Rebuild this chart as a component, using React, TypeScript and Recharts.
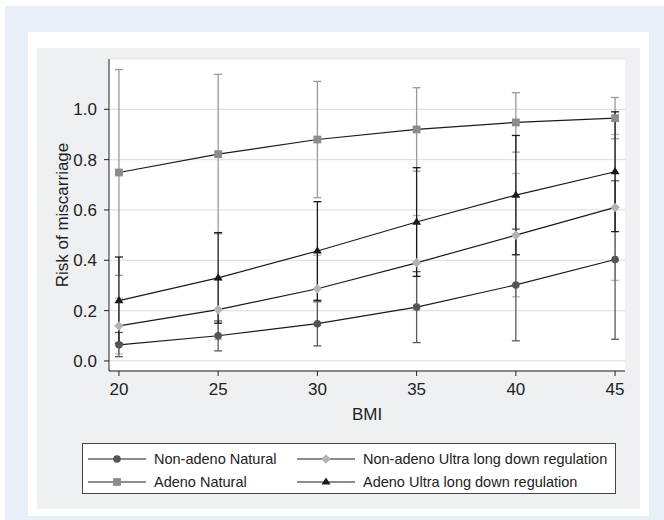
import React from 'react';
import { LineChart, Line, XAxis, YAxis, CartesianGrid, ErrorBar } from 'recharts';

const bmi = [20, 25, 30, 35, 40, 45];

// Non-adeno Natural (dark grey circles)
const nonAdenoNatural = [0.064, 0.1, 0.148, 0.214, 0.302, 0.403];
const nonAdenoNaturalLow = [0.017, 0.04, 0.06, 0.073, 0.08, 0.086];
const nonAdenoNaturalHigh = [0.113, 0.159, 0.235, 0.355, 0.524, 0.716];

// Non-adeno Ultra long down regulation (light grey diamonds)
const nonAdenoUltra = [0.139, 0.204, 0.287, 0.39, 0.5, 0.61];
const nonAdenoUltraLow = [0.028, 0.085, 0.15, 0.202, 0.255, 0.32];
const nonAdenoUltraHigh = [0.25, 0.323, 0.42, 0.578, 0.745, 0.9];

// Adeno Natural (grey squares)
const adenoNatural = [0.749, 0.822, 0.88, 0.92, 0.948, 0.965];
const adenoNaturalLow = [0.34, 0.505, 0.649, 0.754, 0.83, 0.883];
const adenoNaturalHigh = [1.158, 1.139, 1.111, 1.086, 1.066, 1.047];

// Adeno Ultra long down regulation (black triangles)
const adenoUltra = [0.24, 0.33, 0.437, 0.552, 0.659, 0.752];
const adenoUltraLow = [0.07, 0.15, 0.241, 0.336, 0.422, 0.514];
const adenoUltraHigh = [0.413, 0.51, 0.633, 0.768, 0.896, 0.99];

const xTicks = [20, 25, 30, 35, 40, 45];
const yTicks = [0, 0.2, 0.4, 0.6, 0.8, 1.0];

const err = (v: number[], lo: number[], hi: number[], i: number) => [v[i] - lo[i], hi[i] - v[i]];

const data = bmi.map((b, i) => ({
  bmi: b,
  nan: nonAdenoNatural[i],
  nanErr: err(nonAdenoNatural, nonAdenoNaturalLow, nonAdenoNaturalHigh, i),
  nau: nonAdenoUltra[i],
  nauErr: err(nonAdenoUltra, nonAdenoUltraLow, nonAdenoUltraHigh, i),
  an: adenoNatural[i],
  anErr: err(adenoNatural, adenoNaturalLow, adenoNaturalHigh, i),
  au: adenoUltra[i],
  auErr: err(adenoUltra, adenoUltraLow, adenoUltraHigh, i),
}));

const FONT = '"Liberation Sans", Arial, Helvetica, sans-serif';
const LINE = '#1a1a1a';
const AXIS_FS = 17;

const Marker = ({ shape, cx, cy, fill }: any) => {
  if (shape === 'circle') return <circle cx={cx} cy={cy} r={3.8} fill={fill} />;
  if (shape === 'diamond')
    return <path d={`M${cx},${cy - 4.8}L${cx + 4.8},${cy}L${cx},${cy + 4.8}L${cx - 4.8},${cy}Z`} fill={fill} />;
  if (shape === 'square') return <rect x={cx - 3.9} y={cy - 3.9} width={7.8} height={7.8} fill={fill} />;
  return <path d={`M${cx},${cy - 4.6}L${cx + 4.5},${cy + 2.6}L${cx - 4.5},${cy + 2.6}Z`} fill={fill} />;
};

const dotOf = (shape: string, fill: string) => (p: any) =>
  <Marker key={`${shape}-${p.index}`} shape={shape} cx={p.cx} cy={p.cy} fill={fill} />;

const series = [
  { key: 'an', shape: 'square', fill: '#8c8c8c', bar: '#9a9a9a' },
  { key: 'nau', shape: 'diamond', fill: '#b4b4b4', bar: '#b8b8b8' },
  { key: 'nan', shape: 'circle', fill: '#555555', bar: '#5a5a5a' },
  { key: 'au', shape: 'triangle', fill: '#1a1a1a', bar: '#1a1a1a' },
];

const legendItems = [
  { name: 'Non-adeno Natural', shape: 'circle', fill: '#555555', left: 5, top: 14.5 },
  { name: 'Non-adeno Ultra long down regulation', shape: 'diamond', fill: '#b4b4b4', left: 214, top: 14.5 },
  { name: 'Adeno Natural', shape: 'square', fill: '#8c8c8c', left: 5, top: 38 },
  { name: 'Adeno Ultra long down regulation', shape: 'triangle', fill: '#1a1a1a', left: 214, top: 38 },
];

export default function App() {
  return (
    <div style={{ position: 'absolute', left: 0, top: 0, width: 664, height: 520, background: '#fff', overflow: 'hidden', fontFamily: FONT }}>
      <div style={{ position: 'absolute', left: 5, top: 6, width: 659, height: 514, background: '#e8eff8' }} />
      <div style={{ position: 'absolute', left: 28, top: 32, width: 621, height: 484, background: '#fff' }} />
      <div style={{ position: 'absolute', left: 37, top: 48, width: 603, height: 461, background: '#eff0f2' }} />
      <div style={{ position: 'absolute', left: 37, top: 48 }}>
        <LineChart width={603} height={461} data={data} margin={{ top: 11, right: 15, bottom: 83, left: 0 }}>
          <CartesianGrid vertical={false} stroke="#e2e2e2" strokeWidth={1.2} fill="#ffffff" />
          <XAxis
            dataKey="bmi"
            type="number"
            domain={[19.5, 45.5]}
            allowDataOverflow
            ticks={xTicks}
            height={55}
            tickSize={5}
            tickMargin={7}
            stroke="#222"
            tick={{ fill: '#222', fontSize: AXIS_FS, fontFamily: FONT }}
            label={{ value: 'BMI', position: 'insideBottom', offset: 6, fill: '#222', fontSize: AXIS_FS, fontFamily: FONT }}
          />
          <YAxis
            type="number"
            domain={[-0.04, 1.2]}
            allowDataOverflow
            ticks={yTicks}
            width={72}
            tickSize={5}
            tickMargin={7}
            stroke="#222"
            tickFormatter={(v: number) => v.toFixed(1)}
            tick={{ fill: '#222', fontSize: AXIS_FS, fontFamily: FONT }}
            label={{ value: 'Risk of miscarriage', angle: -90, position: 'insideLeft', offset: 25, style: { textAnchor: 'middle' }, fill: '#222', fontSize: AXIS_FS, fontFamily: FONT }}
          />
          {series.map((s) => (
            <Line
              key={s.key}
              dataKey={s.key}
              type="linear"
              stroke={LINE}
              strokeWidth={1.2}
              isAnimationActive={false}
              dot={dotOf(s.shape, s.fill)}
              activeDot={false}
            >
              <ErrorBar dataKey={`${s.key}Err`} direction="y" width={4} stroke={s.bar} strokeWidth={1.3} />
            </Line>
          ))}
        </LineChart>
      </div>
      <div style={{ position: 'absolute', left: 82, top: 443, width: 534, height: 51, border: '1px solid #444', background: '#fff', boxSizing: 'border-box', fontSize: 14.5, color: '#222' }}>
        {legendItems.map((it) => (
          <div key={it.name} style={{ position: 'absolute', left: it.left, top: it.top - 10, height: 20, display: 'flex', alignItems: 'center', whiteSpace: 'nowrap' }}>
            <svg width={58} height={18} style={{ display: 'block' }}>
              <line x1={0} y1={9} x2={58} y2={9} stroke={LINE} strokeWidth={1.2} />
              <Marker shape={it.shape} cx={29} cy={9} fill={it.fill} />
            </svg>
            <span style={{ marginLeft: 8 }}>{it.name}</span>
          </div>
        ))}
      </div>
    </div>
  );
}
